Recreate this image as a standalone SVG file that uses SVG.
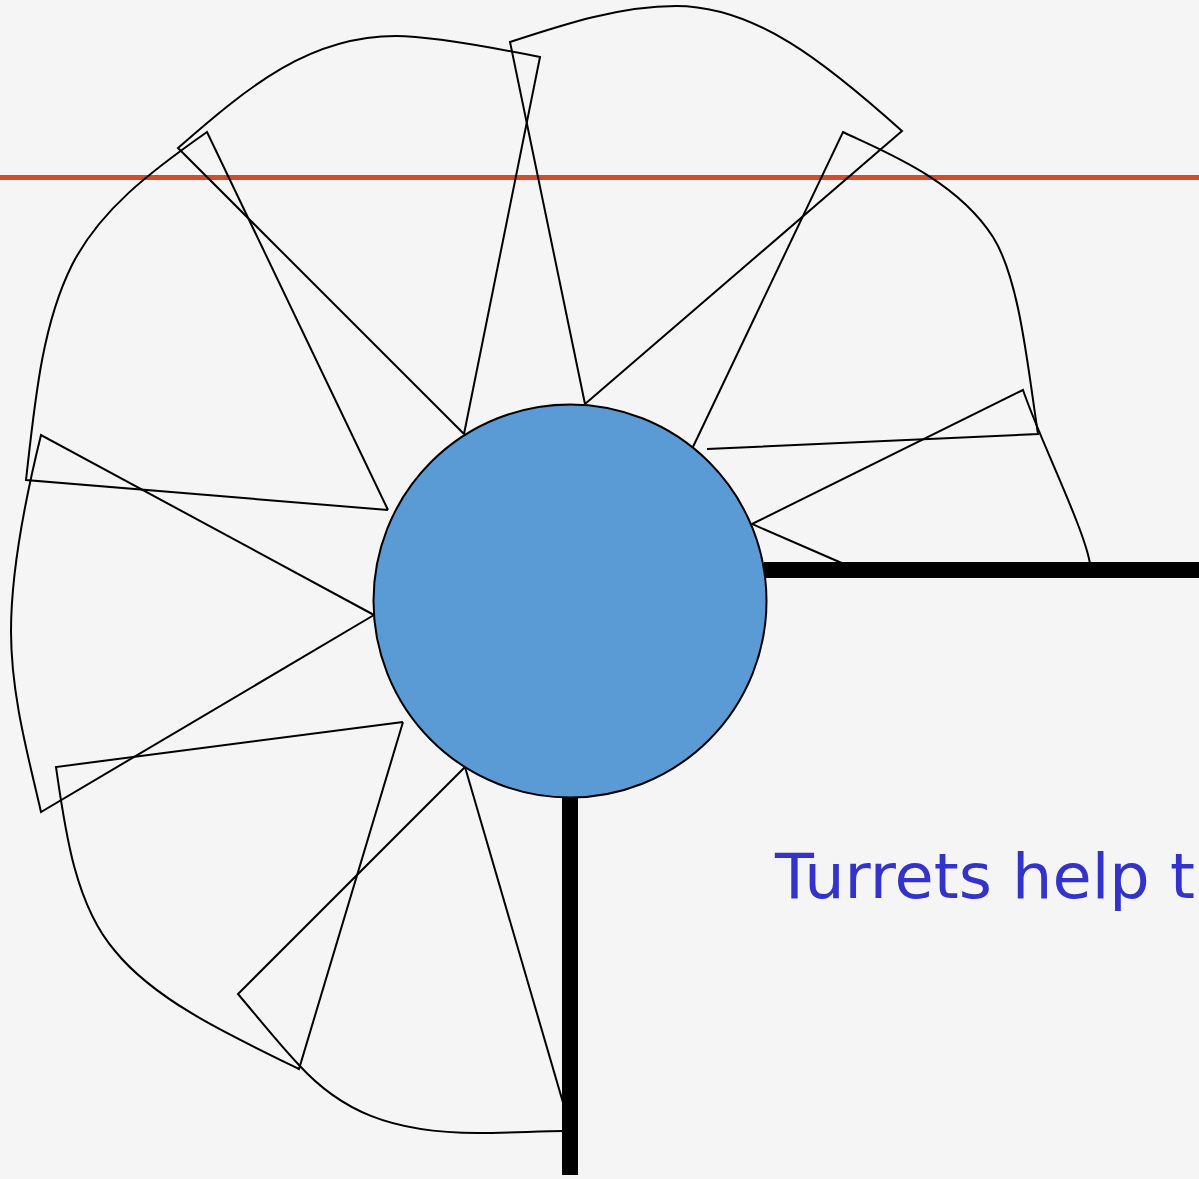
<svg xmlns="http://www.w3.org/2000/svg" width="1199" height="1179" viewBox="0 0 1199 1179">
<style>
.b{fill:none;stroke:#000;stroke-width:2;stroke-linejoin:miter}
.t{fill:#3333cc;font-family:"DejaVu Sans",sans-serif;font-size:62px}
</style>
<rect width="1199" height="1179" fill="#f5f5f5"/>
<g id="connectors">
<path d="M0 177.500H1199" fill="none" stroke="#d04e2d" stroke-width="5"/>
<path d="M764 570H1199M570 797V1175" fill="none" stroke="#000" stroke-width="16"/>
<path class="b" d="M844 564L752 524L1023 390C1040 440 1085 530 1090 564"/>
<path class="b" d="M707 449L1038 434C1028 370 1020 280 993 237C955 178 880 150 843 132L692 449"/>
<path class="b" d="M585 404L902 131C825 62 755 6 676 6C620 6 565 24 510 42L585 404"/>
<path class="b" d="M464 434L540 57C490 47 430 36 396 36C310 36 250 85 178 148L464 434"/>
<path class="b" d="M388 510L207 132C150 172 100 210 72 265C42 325 35 400 26 480L388 510"/>
<path class="b" d="M374 615L41 435C25 500 11 570 11 631C11 695 28 755 41 812L374 615"/>
<path class="b" d="M403 722L56 767C65 830 75 905 115 951C155 1000 225 1033 299 1069L403 722"/>
<path class="b" d="M465 767L238 994C260 1020 280 1045 299 1065C340 1110 390 1133 478 1133C510 1133 540 1131 564 1131"/>
<path class="b" d="M465 767L564 1106"/>
</g>
<g id="hub"><circle cx="570" cy="601" r="196.500" fill="#5b9bd5" stroke="#000" stroke-width="2"/></g>
<g id="caption"><text class="t" x="775" y="898" textLength="420" lengthAdjust="spacingAndGlyphs">Turrets help t</text></g>
</svg>
